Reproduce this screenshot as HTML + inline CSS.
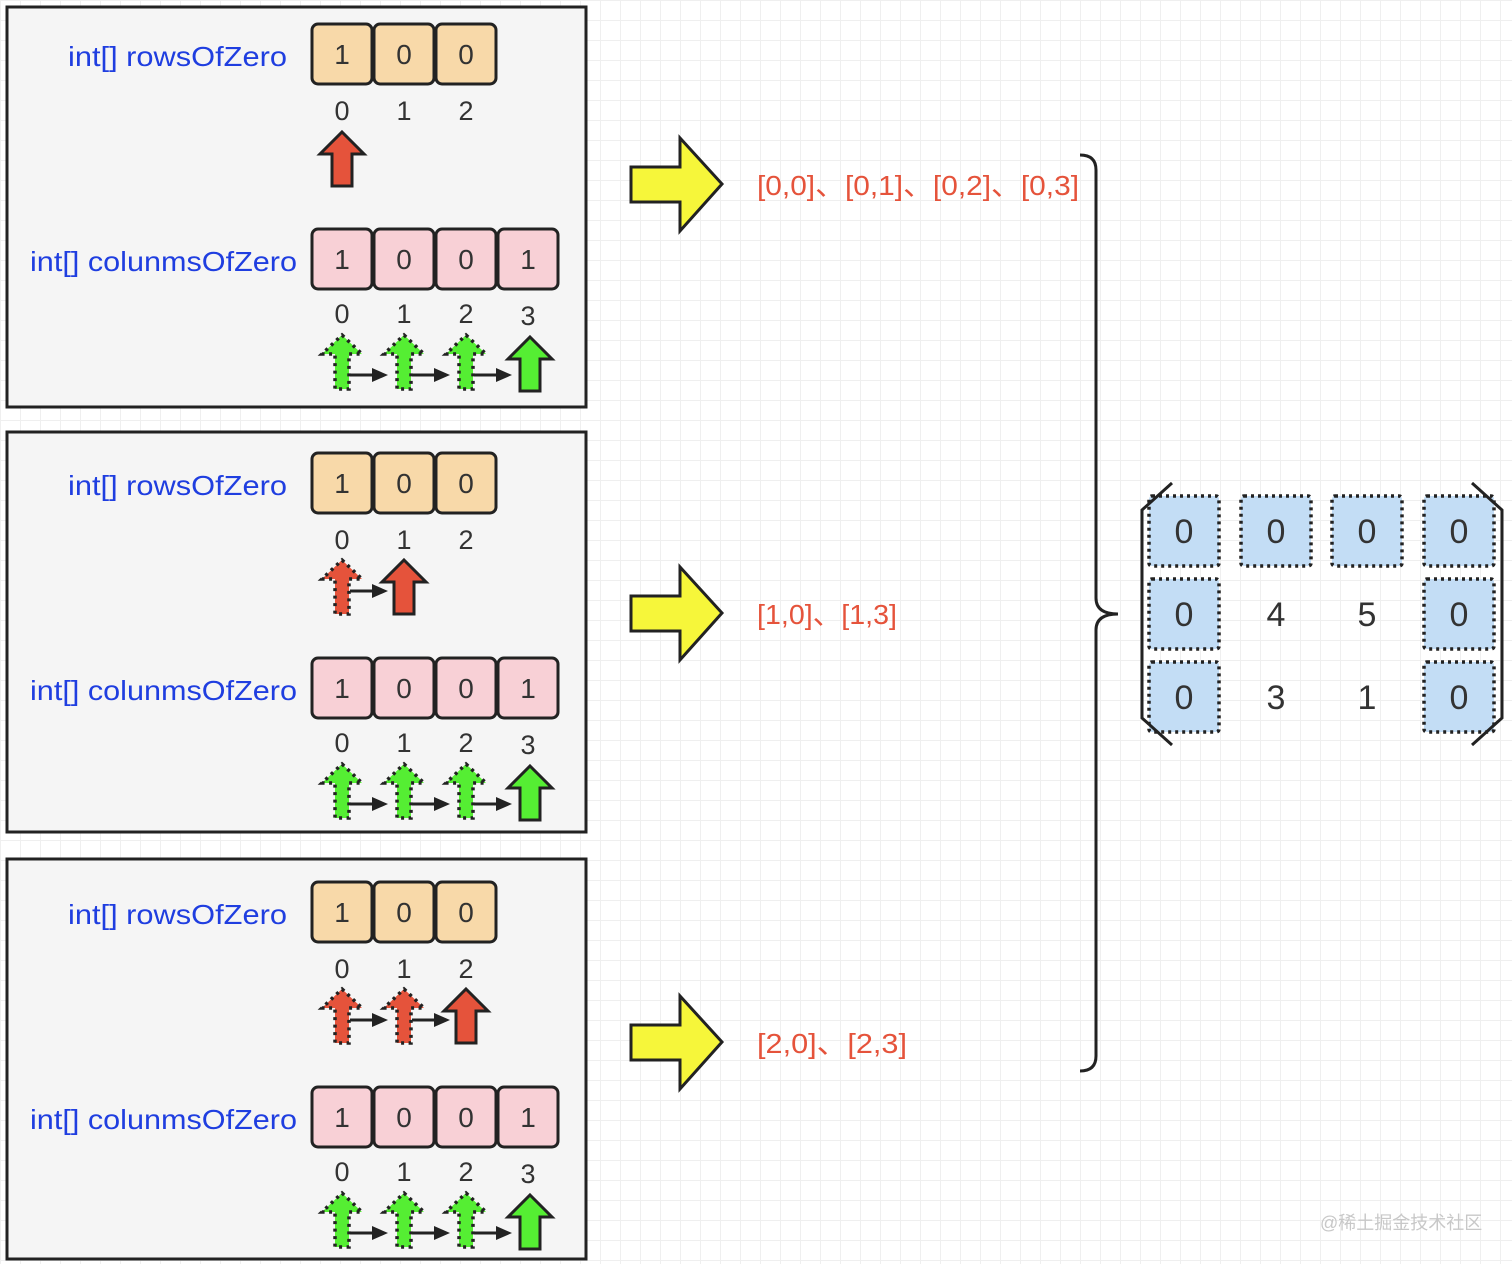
<!DOCTYPE html>
<html><head><meta charset="utf-8"><style>
html,body{margin:0;padding:0;}
body{width:1512px;height:1264px;overflow:hidden;background:#fff;
background-image:linear-gradient(#efefef 1px,transparent 1px),linear-gradient(90deg,#efefef 1px,transparent 1px);background-size:20px 20px;}
svg{position:absolute;left:0;top:0;}
.lbl{font-family:"Liberation Sans",sans-serif;font-size:28px;fill:#1f3ee0;}
.cell{font-family:"Liberation Sans",sans-serif;font-size:28px;fill:#333;text-anchor:middle;}
.idx{font-family:"Liberation Sans",sans-serif;font-size:27px;fill:#333;text-anchor:middle;}
.red{font-family:"Liberation Sans","Noto Sans CJK SC",sans-serif;font-size:28px;fill:#e5533b;}
.mx{font-family:"Liberation Sans",sans-serif;font-size:34px;fill:#333;text-anchor:middle;}
</style></head><body>
<svg width="1512" height="1264" viewBox="0 0 1512 1264">
<defs>
<path id="sa" d="M0,0 L22,22 L10,22 L10,54 L-10,54 L-10,22 L-22,22 Z" stroke="#222" stroke-width="3" stroke-linejoin="miter"/>
<path id="da" d="M0,0 L20,19 L7,19 L7,54 L-7,54 L-7,19 L-20,19 Z" stroke="#222" stroke-width="3.5" stroke-dasharray="3 4.5"/>
<g id="con"><line x1="0" y1="0" x2="26" y2="0" stroke="#222" stroke-width="3"/><path d="M22,-7 L38,0 L22,7 Z" fill="#222"/></g>
<g id="yarrow"><path d="M0,29 L49,29 L49,0 L91,46 L49,93 L49,64 L0,64 Z" fill="#f6f63a" stroke="#222" stroke-width="3"/></g>
<g id="rows">
<rect x="312" y="0" width="60" height="60" rx="6" fill="#f8d9a9" stroke="#222" stroke-width="3"/>
<rect x="374" y="0" width="60" height="60" rx="6" fill="#f8d9a9" stroke="#222" stroke-width="3"/>
<rect x="436" y="0" width="60" height="60" rx="6" fill="#f8d9a9" stroke="#222" stroke-width="3"/>
</g>
<g id="cols">
<rect x="312" y="0" width="60" height="60" rx="6" fill="#f8d0d6" stroke="#222" stroke-width="3"/>
<rect x="374" y="0" width="60" height="60" rx="6" fill="#f8d0d6" stroke="#222" stroke-width="3"/>
<rect x="436" y="0" width="60" height="60" rx="6" fill="#f8d0d6" stroke="#222" stroke-width="3"/>
<rect x="498" y="0" width="60" height="60" rx="6" fill="#f8d0d6" stroke="#222" stroke-width="3"/>
</g>
<g id="greens">
<use href="#da" x="342" y="0" fill="#55ee33"/>
<use href="#da" x="404" y="0" fill="#55ee33"/>
<use href="#da" x="466" y="0" fill="#55ee33"/>
<use href="#sa" x="530" y="2" fill="#55ee33"/>
<use href="#con" x="350" y="40"/><use href="#con" x="412" y="40"/><use href="#con" x="474" y="40"/>
</g>
</defs>

<rect x="7" y="7" width="579" height="400" fill="#f5f5f5" stroke="#222" stroke-width="3"/>
<rect x="7" y="432" width="579" height="400" fill="#f5f5f5" stroke="#222" stroke-width="3"/>
<rect x="7" y="859" width="579" height="400" fill="#f5f5f5" stroke="#222" stroke-width="3"/>

<!-- panel 1 -->
<text class="lbl" x="68" y="66" textLength="219" lengthAdjust="spacingAndGlyphs">int[] rowsOfZero</text>
<use href="#rows" y="24"/>
<text class="cell" x="342" y="64">1</text><text class="cell" x="404" y="64">0</text><text class="cell" x="466" y="64">0</text>
<text class="idx" x="342" y="120">0</text><text class="idx" x="404" y="120">1</text><text class="idx" x="466" y="120">2</text>
<use href="#sa" x="342" y="132" fill="#e5533b"/>
<text class="lbl" x="30" y="271" textLength="267" lengthAdjust="spacingAndGlyphs">int[] colunmsOfZero</text>
<use href="#cols" y="229"/>
<text class="cell" x="342" y="269">1</text><text class="cell" x="404" y="269">0</text><text class="cell" x="466" y="269">0</text><text class="cell" x="528" y="269">1</text>
<text class="idx" x="342" y="323">0</text><text class="idx" x="404" y="323">1</text><text class="idx" x="466" y="323">2</text><text class="idx" x="528" y="325">3</text>
<use href="#greens" y="335"/>

<!-- panel 2 -->
<text class="lbl" x="68" y="495" textLength="219" lengthAdjust="spacingAndGlyphs">int[] rowsOfZero</text>
<use href="#rows" y="453"/>
<text class="cell" x="342" y="493">1</text><text class="cell" x="404" y="493">0</text><text class="cell" x="466" y="493">0</text>
<text class="idx" x="342" y="549">0</text><text class="idx" x="404" y="549">1</text><text class="idx" x="466" y="549">2</text>
<use href="#da" x="342" y="560" fill="#e5533b"/>
<use href="#con" x="350" y="591"/>
<use href="#sa" x="404" y="560" fill="#e5533b"/>
<text class="lbl" x="30" y="700" textLength="267" lengthAdjust="spacingAndGlyphs">int[] colunmsOfZero</text>
<use href="#cols" y="658"/>
<text class="cell" x="342" y="698">1</text><text class="cell" x="404" y="698">0</text><text class="cell" x="466" y="698">0</text><text class="cell" x="528" y="698">1</text>
<text class="idx" x="342" y="752">0</text><text class="idx" x="404" y="752">1</text><text class="idx" x="466" y="752">2</text><text class="idx" x="528" y="754">3</text>
<use href="#greens" y="764"/>

<!-- panel 3 -->
<text class="lbl" x="68" y="924" textLength="219" lengthAdjust="spacingAndGlyphs">int[] rowsOfZero</text>
<use href="#rows" y="882"/>
<text class="cell" x="342" y="922">1</text><text class="cell" x="404" y="922">0</text><text class="cell" x="466" y="922">0</text>
<text class="idx" x="342" y="978">0</text><text class="idx" x="404" y="978">1</text><text class="idx" x="466" y="978">2</text>
<use href="#da" x="342" y="989" fill="#e5533b"/>
<use href="#da" x="404" y="989" fill="#e5533b"/>
<use href="#sa" x="466" y="989" fill="#e5533b"/>
<use href="#con" x="350" y="1020"/><use href="#con" x="412" y="1020"/>
<text class="lbl" x="30" y="1129" textLength="267" lengthAdjust="spacingAndGlyphs">int[] colunmsOfZero</text>
<use href="#cols" y="1087"/>
<text class="cell" x="342" y="1127">1</text><text class="cell" x="404" y="1127">0</text><text class="cell" x="466" y="1127">0</text><text class="cell" x="528" y="1127">1</text>
<text class="idx" x="342" y="1181">0</text><text class="idx" x="404" y="1181">1</text><text class="idx" x="466" y="1181">2</text><text class="idx" x="528" y="1183">3</text>
<use href="#greens" y="1193"/>

<use href="#yarrow" x="631" y="138"/>
<use href="#yarrow" x="631" y="567"/>
<use href="#yarrow" x="631" y="996"/>
<text class="red" x="757" y="195" textLength="322" lengthAdjust="spacingAndGlyphs">[0,0]、[0,1]、[0,2]、[0,3]</text>
<text class="red" x="757" y="624" textLength="140" lengthAdjust="spacingAndGlyphs">[1,0]、[1,3]</text>
<text class="red" x="757" y="1053" textLength="150" lengthAdjust="spacingAndGlyphs">[2,0]、[2,3]</text>

<path d="M1080,155 Q1096,155 1096,170 L1096,598 Q1096,614 1118,614 Q1096,614 1096,630 L1096,1056 Q1096,1071 1080,1071" fill="none" stroke="#222" stroke-width="3"/>

<g fill="#c3ddf5" stroke="#222" stroke-width="3.5" stroke-dasharray="3 4">
<rect x="1149" y="496" width="70" height="70" rx="3"/>
<rect x="1241" y="496" width="70" height="70" rx="3"/>
<rect x="1332" y="496" width="70" height="70" rx="3"/>
<rect x="1424" y="496" width="70" height="70" rx="3"/>
<rect x="1149" y="579" width="70" height="70" rx="3"/>
<rect x="1424" y="579" width="70" height="70" rx="3"/>
<rect x="1149" y="662" width="70" height="70" rx="3"/>
<rect x="1424" y="662" width="70" height="70" rx="3"/>
</g>
<path d="M1172,483 L1142,510 L1142,718 L1172,745" fill="none" stroke="#222" stroke-width="3"/>
<path d="M1472,483 L1502,510 L1502,718 L1472,745" fill="none" stroke="#222" stroke-width="3"/>
<text class="mx" x="1184" y="543">0</text><text class="mx" x="1276" y="543">0</text><text class="mx" x="1367" y="543">0</text><text class="mx" x="1459" y="543">0</text>
<text class="mx" x="1184" y="626">0</text><text class="mx" x="1276" y="626">4</text><text class="mx" x="1367" y="626">5</text><text class="mx" x="1459" y="626">0</text>
<text class="mx" x="1184" y="709">0</text><text class="mx" x="1276" y="709">3</text><text class="mx" x="1367" y="709">1</text><text class="mx" x="1459" y="709">0</text>

<text x="1320" y="1229" font-family="'Liberation Sans','Noto Sans CJK SC',sans-serif" font-size="18" fill="#c8c8c8">@稀土掘金技术社区</text>
</svg>
</body></html>
